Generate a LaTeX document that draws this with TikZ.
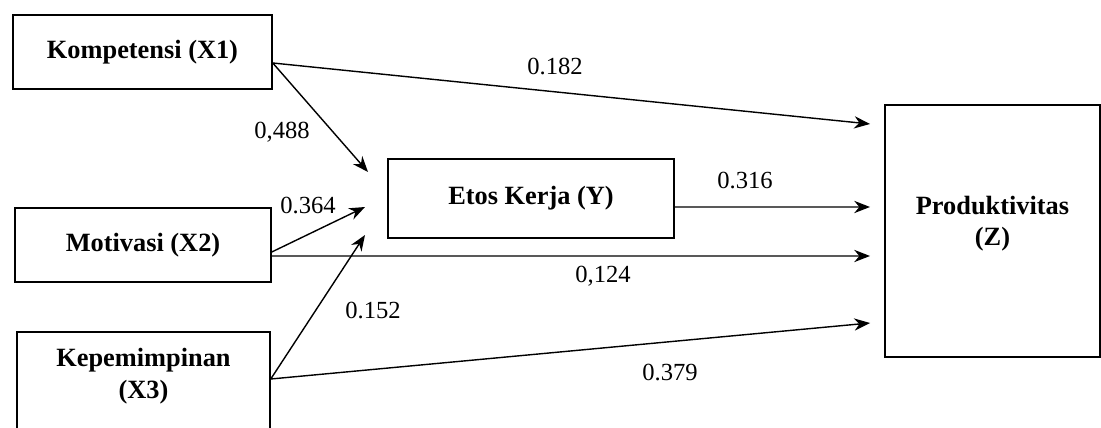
\documentclass[tikz,border=0pt]{standalone}
\usepackage{fontspec}
\setmainfont{Liberation Serif}
\usetikzlibrary{arrows.meta}
\tikzset{
  varbox/.style={draw, line width=0.9pt, font=\fontsize{15}{18}\selectfont\bfseries, align=center, inner sep=0pt},
  varname/.style={font=\fontsize{15}{18}\selectfont\bfseries, align=center},
  coef/.style={font=\fontsize{14}{16}\selectfont},
  link/.style={-{Stealth[length=9pt,width=7pt]}, line width=0.8pt}
}

\begin{document}
\begin{tikzpicture}[x=0.02cm, y=-0.02cm]
  \useasboundingbox (0,0) rectangle (1101,428);
  \clip (0,0) rectangle (1101,428);
  % Variables
  \node[varbox, minimum width=5.18cm, minimum height=1.48cm] (x1) at (142.5,52) {Kompetensi (X1)};
  \node[varbox, minimum width=5.12cm, minimum height=1.48cm] (x2) at (143,245) {Motivasi (X2)};
  \node[varbox, minimum width=5.06cm, minimum height=2.16cm] (x3) at (143.5,386) {};
  \node[varname] (x3t) at (143.5,376) {Kepemimpinan\\(X3)};
  \node[varbox, minimum width=5.72cm, minimum height=1.58cm] (y) at (531,198.5) {Etos Kerja (Y)};
  \node[varbox, minimum width=4.3cm, minimum height=5.04cm] (z) at (992.5,231) {};
  \node[varname] (zt) at (992.5,223.5) {Produktivitas\\(Z)};
  % Arrow tips
  \coordinate (y1) at (368,172);
  \coordinate (y2) at (365,207);
  \coordinate (y3) at (365,235);
  \coordinate (z1) at (870,124);
  \coordinate (z2) at (870,207);
  \coordinate (z3) at (870,256);
  \coordinate (z4) at (870,323);
  % Paths
  \draw[link] ([yshift=-0.22cm]x1.east) -- (z1);
  \draw[link] ([yshift=-0.22cm]x1.east) -- (y1);
  \draw[link] ([yshift=-0.14cm]x2.east) -- (y2);
  \draw[link] ([yshift=0.14cm]x3.east) -- (y3);
  \draw[link] ([yshift=-0.17cm]y.east) -- (z2);
  \draw[link] ([yshift=-0.22cm]x2.east) -- (z3);
  \draw[link] ([yshift=0.14cm]x3.east) -- (z4);
  % Coefficients
  \node[coef] (c1) at (555,67) {0.182};
  \node[coef] (c2) at (282,132) {0,488};
  \node[coef] (c3) at (308,205) {0.364};
  \node[coef] (c4) at (373,310) {0.152};
  \node[coef] (c5) at (745,180) {0.316};
  \node[coef] (c6) at (603,276) {0,124};
  \node[coef] (c7) at (670,372) {0.379};
\end{tikzpicture}
\end{document}
